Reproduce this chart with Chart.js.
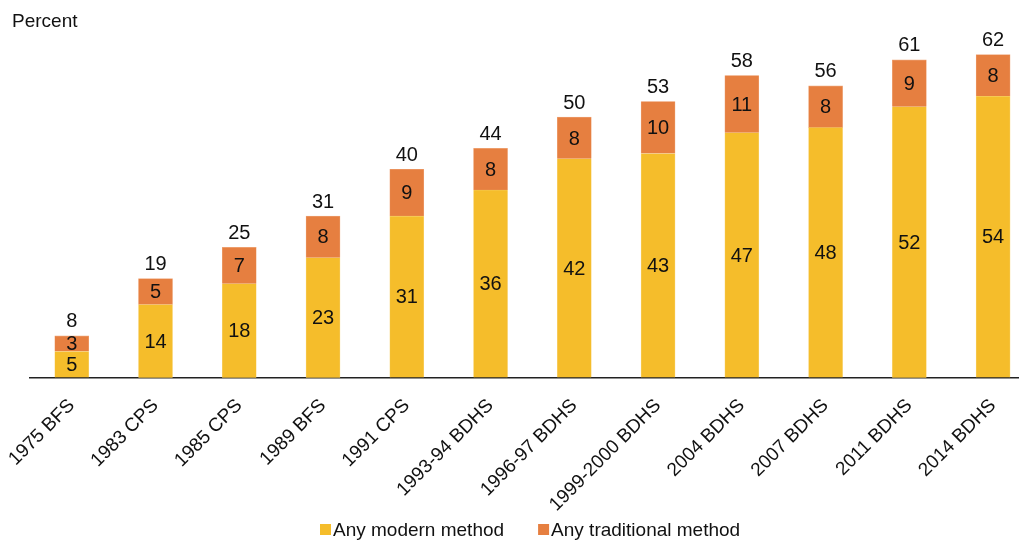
<!DOCTYPE html>
<html>
<head>
<meta charset="utf-8">
<script src="https://cdn.jsdelivr.net/npm/chart.js@4.4.1/dist/chart.umd.min.js"></script>
<style>
  html, body { margin: 0; padding: 0; background: #fff; overflow: hidden; width: 1019px; height: 541px; position: relative; }
  #wrap { position: absolute; left: -5px; top: 0; width: 1045px; height: 541px; }
</style>
</head>
<body>
<div id="wrap"><canvas id="c" width="1045" height="541"></canvas></div>
<script>
const categories = ['1975 BFS','1983 CPS','1985 CPS','1989 BFS','1991 CPS','1993-94 BDHS','1996-97 BDHS','1999-2000 BDHS','2004 BDHS','2007 BDHS','2011 BDHS','2014 BDHS'];
const modern = [5,14,18,23,31,36,42,43,47,48,52,54];
const traditional = [3,5,7,8,9,8,8,10,11,8,9,8];
const totals = [8,19,25,31,40,44,50,53,58,56,61,62];

const FONT = "'Liberation Sans', Arial, sans-serif";
const SHIFT = 5;

const labelPlugin = {
  id: 'labels',
  afterDatasetsDraw(chart) {
    const ctx = chart.ctx;
    ctx.save();
    ctx.font = '20px ' + FONT;
    ctx.fillStyle = '#111';
    ctx.textAlign = 'center';
    ctx.textBaseline = 'middle';
    chart.data.datasets.forEach((ds, di) => {
      const meta = chart.getDatasetMeta(di);
      meta.data.forEach((bar, i) => {
        const y = (bar.y + bar.base) / 2;
        ctx.fillText(String(ds.data[i]), bar.x, y + 1);
      });
    });
    const top = chart.getDatasetMeta(1);
    top.data.forEach((bar, i) => {
      ctx.fillText(String(totals[i]), bar.x, bar.y - 14);
    });
    ctx.textAlign = 'left';
    ctx.font = '19px ' + FONT;
    ctx.fillText('Percent', 12 + SHIFT, 22);

    // legend
    ctx.font = '19px ' + FONT;
    let x = 320 + SHIFT;
    const cy = 530;
    chart.data.datasets.forEach((ds, di) => {
      ctx.fillStyle = ds.backgroundColor;
      ctx.fillRect(x, cy - 6, 11, 11);
      ctx.fillStyle = '#111';
      ctx.fillText(ds.label, x + 13, cy + 1);
      x += 13 + ctx.measureText(ds.label).width + 34;
    });
    ctx.restore();
  }
};

new Chart(document.getElementById('c'), {
  type: 'bar',
  data: {
    labels: categories,
    datasets: [
      { label: 'Any modern method', data: modern, backgroundColor: '#F5BD2B', borderColor: '#F8D57A', borderWidth: 0.6, barThickness: 34 },
      { label: 'Any traditional method', data: traditional, backgroundColor: '#E67F40', borderColor: '#EFA77A', borderWidth: 0.6, barThickness: 34 }
    ]
  },
  options: {
    responsive: false,
    animation: false,
    layout: { padding: { top: 13, left: 0, right: 5, bottom: 8 } },
    plugins: {
      tooltip: { enabled: false },
      legend: { display: false }
    },
    scales: {
      x: {
        stacked: true,
        grid: { display: true, drawOnChartArea: false, drawTicks: false, color: 'rgba(0,0,0,0)' },
        border: { display: true, color: '#222', width: 1.5 },
        ticks: { maxRotation: 45, minRotation: 45, autoSkip: false, padding: 17, color: '#111', font: { size: 19, family: FONT } }
      },
      y: {
        stacked: true,
        display: false,
        min: 0,
        max: 70
      }
    }
  },
  plugins: [labelPlugin]
});
</script>
</body>
</html>
